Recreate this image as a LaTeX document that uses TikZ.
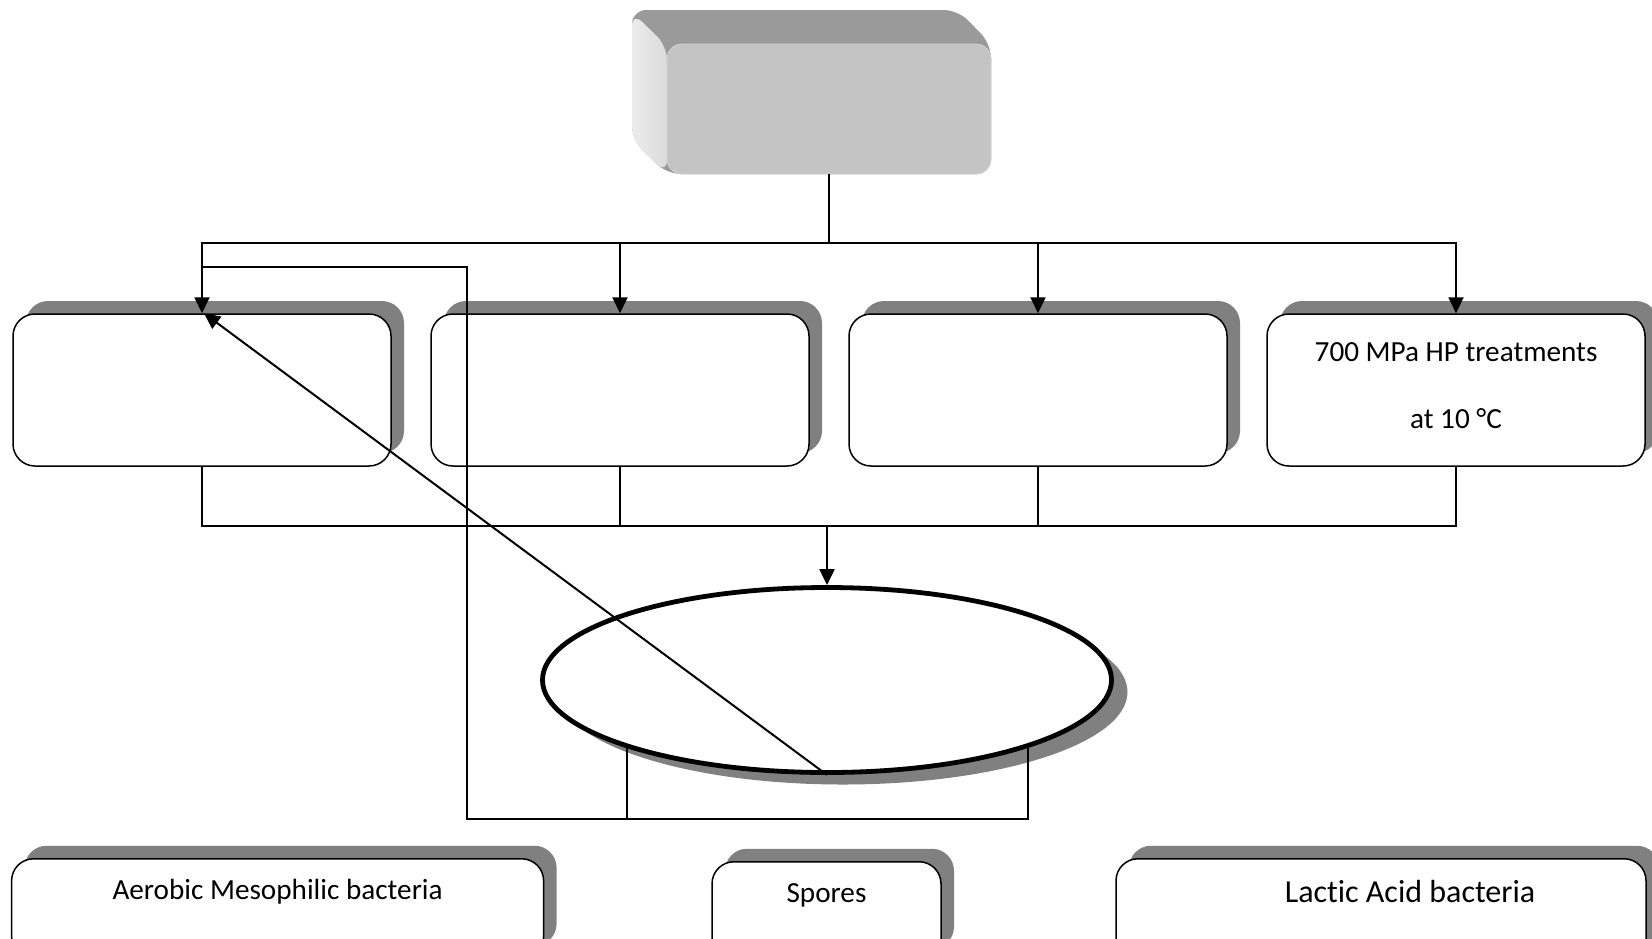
\documentclass[tikz,border=0pt]{standalone}
\usepackage{fontspec}
\setmainfont{Carlito}[Ligatures=NoCommon]
\usetikzlibrary{arrows.meta,shapes.geometric,shadows}
\definecolor{shade}{RGB}{128,128,128}
\definecolor{front}{RGB}{196,196,196}
\definecolor{lid}{RGB}{154,154,154}
\tikzset{box/.style = {shape=rectangle,draw,fill=white,rounded corners=11pt,line width=0.75pt,
    minimum width=189pt,minimum height=76pt,align=center,
    drop shadow={shadow xshift=6.5pt,shadow yshift=6.5pt,fill=shade,opacity=1}}}
\tikzset{result/.style = {box,anchor=north,minimum height=50pt,text height=10pt,text depth=19pt,inner ysep=10.5pt}}
\tikzset{oval/.style = {shape=ellipse,draw,fill=white,line width=2.4pt,minimum width=284.5pt,minimum height=92.5pt,
    drop shadow={shadow xshift=8pt,shadow yshift=-6pt,fill=shade,opacity=1}}}
\tikzset{edge/.style = {->,> = {Triangle[length=8pt,width=7.5pt]},line width=1pt}}
\tikzset{link/.style = {line width=1pt}}

\begin{document}
\begin{tikzpicture}[x=0.5pt,y=-0.5pt,font=\fontsize{14.6pt}{33.5pt}\selectfont]
  \useasboundingbox (0,0) rectangle (1652,938);

  % 3d block on top
  \fill[lid,rounded corners=7pt] (632,10) -- (958,10) -- (991,44) -- (991,174) -- (667,174) -- (632,140) -- cycle;
  \shade[left color=gray!15,right color=gray!28,rounded corners=7pt] (632,12) -- (667,46) -- (667,174) -- (632,140) -- cycle;
  \node[fill=front,draw=gray!35,rounded corners=7.5pt,minimum width=162pt,minimum height=65pt] (top) at (829,109) {};

  \node[box] (b1) at (202,390) {};
  \node[box] (b2) at (620,390) {};
  \node[box] (b3) at (1038,390) {};
  \node[box,text depth=4.5pt] (b4) at (1456,390) {700 MPa HP treatments\\at 10 °C};

  \node[oval] (ell) at (827,680) {};

  \node[result,minimum width=266pt] (amb) at (277.6,858) {Aerobic Mesophilic bacteria};
  \node[result,minimum width=114.5pt] (spo) at (826.5,861) {Spores};
  \node[result,minimum width=265pt,inner ysep=12pt,text depth=18pt,font=\fontsize{16pt}{20pt}\selectfont] (lab) at (1381,858) {\hspace*{29pt}Lactic Acid bacteria};

  \coordinate (split) at (829,243);
  \coordinate (join) at (827,526);
  \coordinate (e1) at (627,745);
  \coordinate (e2) at (1028,745);
  \coordinate (lc) at (467,819);
  \coordinate (lt) at (467,267);

  \draw[line width=1.4pt] (top.south) -- (split);
  \draw[edge] (split) -| (b1.north);
  \draw[edge] (split) -| (b2.north);
  \draw[edge] (split) -| (b3.north);
  \draw[edge] (split) -| (b4.north);

  \draw[link] (b1.south) |- (join);
  \draw[link] (b2.south) |- (join);
  \draw[link] (b3.south) |- (join);
  \draw[link] (b4.south) |- (join);
  \draw[edge] (join) -- (ell.north);

  \draw[link] (e2) |- (lc) -- (lt) -- (b1.north |- lt);
  \draw[link] (e1) -- (e1 |- lc);
  \draw[edge] (ell.south) -- ([xshift=1pt]b1.north);
\end{tikzpicture}
\end{document}
